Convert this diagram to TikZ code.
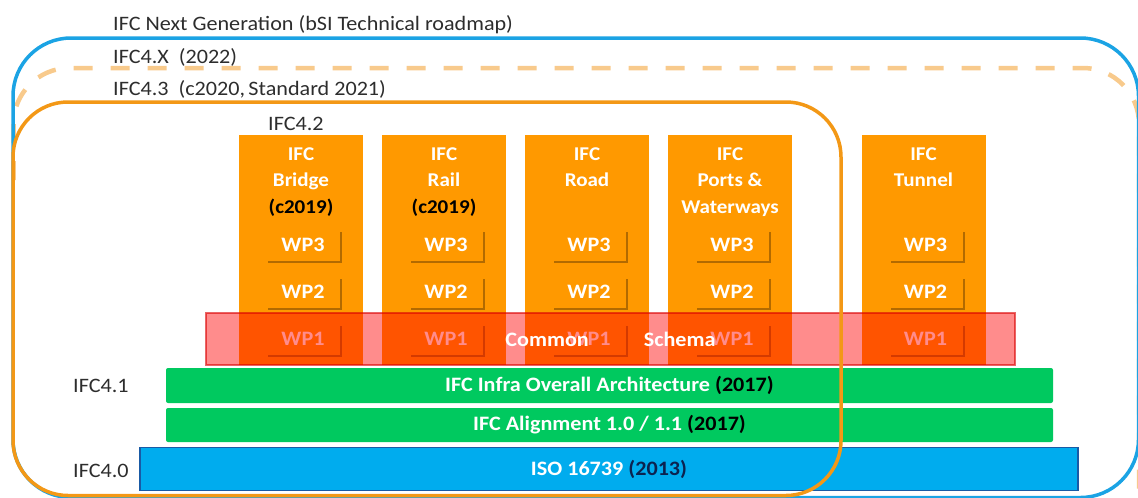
\documentclass[tikz,border=0pt]{standalone}
\usepackage{fontspec}
\setmainfont{Carlito}[FakeStretch=1.08]
\usepackage{xcolor}
\usetikzlibrary{shadows}
\definecolor{ifcorange}{RGB}{255,153,0}
\definecolor{frameorange}{RGB}{243,152,22}
\definecolor{dashorange}{RGB}{248,202,140}
\definecolor{frameblue}{RGB}{27,163,228}
\definecolor{isoblue}{RGB}{0,172,238}
\definecolor{isoborder}{RGB}{25,90,165}
\definecolor{isonavy}{RGB}{12,35,80}
\definecolor{infragreen}{RGB}{0,201,95}
\definecolor{labelgray}{RGB}{45,45,45}

\begin{document}
\begin{tikzpicture}[x=1pt,y=-1pt,
    lbl/.style={anchor=west,inner sep=0,text=labelgray,font=\fontsize{20.5}{24}\selectfont},
    domaincol/.style={fill=ifcorange,minimum width=124,minimum height=230,inner sep=0},
    coltitle/.style={anchor=north,align=center,inner sep=0,text=white,font=\bfseries\fontsize{19.5}{26.5}\selectfont},
    wpbox/.style={fill=ifcorange,minimum width=74,minimum height=31,inner sep=0,text=white,
        font=\bfseries\fontsize{20.5}{24}\selectfont,
        drop shadow={shadow xshift=2pt,shadow yshift=-2pt,opacity=0.3,fill=black}},
    layerbar/.style={inner sep=0,text=white,font=\bfseries\fontsize{20.5}{24}\selectfont}]
    \useasboundingbox (0,0) rectangle (1138,498);
    \clip (0,0) rectangle (1138,498);

    % Domain extensions
    \foreach \x/\name/\title in {301/bridge/{IFC\\Bridge\\\textcolor{black}{(c2019)}},
                                444/rail/{IFC\\Rail\\\textcolor{black}{(c2019)}},
                                587/road/{IFC\\Road},
                                730/ports/{IFC\\Ports \&\\Waterways},
                                923.5/tunnel/{IFC\\Tunnel}} {
        \node[domaincol] (\name) at (\x,250) {};
        \node[coltitle] (\name-title) at (\x,147.5) {\title};
        \node[wpbox] (\name-wp3) at (\x+2,245) {WP3};
        \node[wpbox] (\name-wp2) at (\x+2,292) {WP2};
        \node[wpbox] (\name-wp1) at (\x+2,339) {WP1};
    }

    % Common schema band
    \node[draw=red!85!black,line width=1.2pt,fill=red,fill opacity=0.45,draw opacity=0.6,text opacity=1,
          minimum width=809,minimum height=52,inner sep=0,text=white,
          font=\bfseries\fontsize{20.5}{24}\selectfont] (band) at (610.5,339) {Common\hspace{55pt}Schema};

    % Base layers
    \node[layerbar,fill=infragreen,rounded corners=2pt,minimum width=887,minimum height=35] (arch) at (609.5,385.5)
        {IFC Infra Overall Architecture \textcolor{black}{(2017)}};
    \node[layerbar,fill=infragreen,rounded corners=2pt,minimum width=887,minimum height=34] (align) at (609.5,425)
        {IFC Alignment 1.0 / 1.1 \textcolor{black}{(2017)}};
    \node[layerbar,fill=isoblue,draw=isoborder,line width=1.5pt,minimum width=938,minimum height=43] (iso) at (609,469)
        {ISO 16739 \textcolor{isonavy}{(2013)}};

    % Release frames
    \draw[dashorange,line width=4.5pt,dash pattern=on 19pt off 18pt,rounded corners=56pt] (13.5,180) |- (1139,68) -- (1139,620);
    \draw[frameblue,line width=3.5pt,rounded corners=58pt] (13,38) rectangle (1138.5,497.5);
    \draw[frameorange,line width=3.5pt,rounded corners=55pt] (13,102) rectangle (841,495.5);

    % Release labels
    \node[lbl] (nextgen) at (113,25) {IFC Next Generation (bSI Technical roadmap)};
    \node[lbl] (ifc4x) at (113,57) {IFC4.X\ \ (2022)};
    \node[lbl] (ifc43) at (113,89) {IFC4.3\ \ (c2020,\,Standard 2021)};
    \node[lbl] (ifc42) at (268,124) {IFC4.2};
    \node[lbl] (ifc41) at (73,386) {IFC4.1};
    \node[lbl] (ifc40) at (73,471) {IFC4.0};
\end{tikzpicture}
\end{document}
